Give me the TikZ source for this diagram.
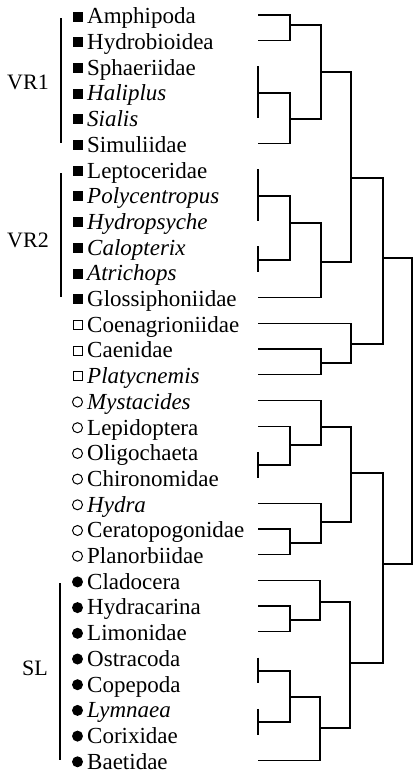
\documentclass[tikz,border=0pt]{standalone}
\usepackage{fontspec}
\setmainfont{Liberation Serif}
\begin{document}
\begin{tikzpicture}[x=1pt,y=-1pt,
  tree/.style={line width=1.3pt, line join=miter},
  lbl/.style={anchor=base west, inner sep=0pt, font=\fontsize{23}{25}\selectfont},
  fsq/.style={fill=black, minimum size=10pt, inner sep=0pt},
  osq/.style={draw=black, line width=1pt, minimum size=9pt, inner sep=0pt},
  fci/.style={circle, fill=black, minimum size=11pt, inner sep=0pt},
  oci/.style={circle, draw=black, line width=1pt, minimum size=10pt, inner sep=0pt},
  grp/.style={anchor=east, inner sep=0pt, font=\fontsize{22}{24}\selectfont},
  bar/.style={line width=1.2pt}]
\useasboundingbox (0,0) rectangle (413,774);

% leaves: markers, names, leaf end points
\foreach \i/\m/\t in {
  0/fsq/Amphipoda, 1/fsq/Hydrobioidea, 2/fsq/Sphaeriidae, 3/fsq/\textit{Haliplus},
  4/fsq/\textit{Sialis}, 5/fsq/Simuliidae, 6/fsq/Leptoceridae, 7/fsq/\textit{Polycentropus},
  8/fsq/\textit{Hydropsyche}, 9/fsq/\textit{Calopterix}, 10/fsq/\textit{Atrichops},
  11/fsq/Glossiphoniidae, 12/osq/Coenagrioniidae, 13/osq/Caenidae, 14/osq/\textit{Platycnemis},
  15/oci/\textit{Mystacides}, 16/oci/Lepidoptera, 17/oci/Oligochaeta, 18/oci/Chironomidae,
  19/oci/\textit{Hydra}, 20/oci/Ceratopogonidae, 21/oci/Planorbiidae,
  22/fci/Cladocera, 23/fci/Hydracarina, 24/fci/Limonidae, 25/fci/Ostracoda,
  26/fci/Copepoda, 27/fci/\textit{Lymnaea}, 28/fci/Corixidae, 29/fci/Baetidae}{
  \pgfmathsetmacro\yy{15+25.7*\i}
  \coordinate (l\i) at (258,\yy);
  \node[\m] (m\i) at (77.5,\yy+1.5) {};
  \node[lbl] (t\i) at (87,\yy+8.8) {\t};
}

% group labels and brackets
\node[grp] (vr1) at (49,82) {VR1};
\node[grp] (vr2) at (49,240) {VR2};
\node[grp] (sl) at (48,668) {SL};
\draw[bar] (61,18) -- (61,143);
\draw[bar] (61,173) -- (61,297);
\draw[bar] (60,583) -- (60,760);

% merge points
\coordinate (z1) at (258,93);
\coordinate (z2) at (258,196);
\coordinate (z3) at (258,260);
\coordinate (z4) at (258,465);
\coordinate (z5) at (258,671);
\coordinate (z6) at (258,722);
\coordinate (A) at (290,25);
\coordinate (B) at (290,119);
\coordinate (C) at (321,72);
\coordinate (D) at (290,223);
\coordinate (E) at (321,262);
\coordinate (F) at (351,178);
\coordinate (G) at (321,363);
\coordinate (H) at (351,344);
\coordinate (I) at (383,258);
\coordinate (J) at (290,445);
\coordinate (K) at (321,427);
\coordinate (L) at (290,543);
\coordinate (M) at (321,522);
\coordinate (N) at (351,473);
\coordinate (O) at (290,620);
\coordinate (P) at (320,602);
\coordinate (Q) at (290,697);
\coordinate (R) at (320,728);
\coordinate (S) at (350,663);
\coordinate (T) at (383,564);
\coordinate (U) at (412,411);

% dendrogram
\draw[tree] (l2) -- (l4);
\draw[tree] (l6) -- (l8);
\draw[tree] (l9) -- (l10);
\draw[tree] (l17) -- (l18);
\draw[tree] (l25) -- (l26);
\draw[tree] (l27) -- (l28);
\draw[tree] (l0) -| (A) |- (l1);
\draw[tree] (z1) -| (B) |- (l5);
\draw[tree] (A) -| (C) |- (B);
\draw[tree] (z2) -| (D) |- (z3);
\draw[tree] (D) -| (E) |- (l11);
\draw[tree] (C) -| (F) |- (E);
\draw[tree] (l13) -| (G) |- (l14);
\draw[tree] (l12) -| (H) |- (G);
\draw[tree] (F) -| (I) |- (H);
\draw[tree] (l16) -| (J) |- (z4);
\draw[tree] (l15) -| (K) |- (J);
\draw[tree] (l20) -| (L) |- (l21);
\draw[tree] (l19) -| (M) |- (L);
\draw[tree] (K) -| (N) |- (M);
\draw[tree] (l23) -| (O) |- (l24);
\draw[tree] (l22) -| (P) |- (O);
\draw[tree] (z5) -| (Q) |- (z6);
\draw[tree] (Q) -| (R) |- (l29);
\draw[tree] (P) -| (S) |- (R);
\draw[tree] (N) -| (T) |- (S);
\draw[tree] (I) -| (U) |- (T);
\end{tikzpicture}
\end{document}
